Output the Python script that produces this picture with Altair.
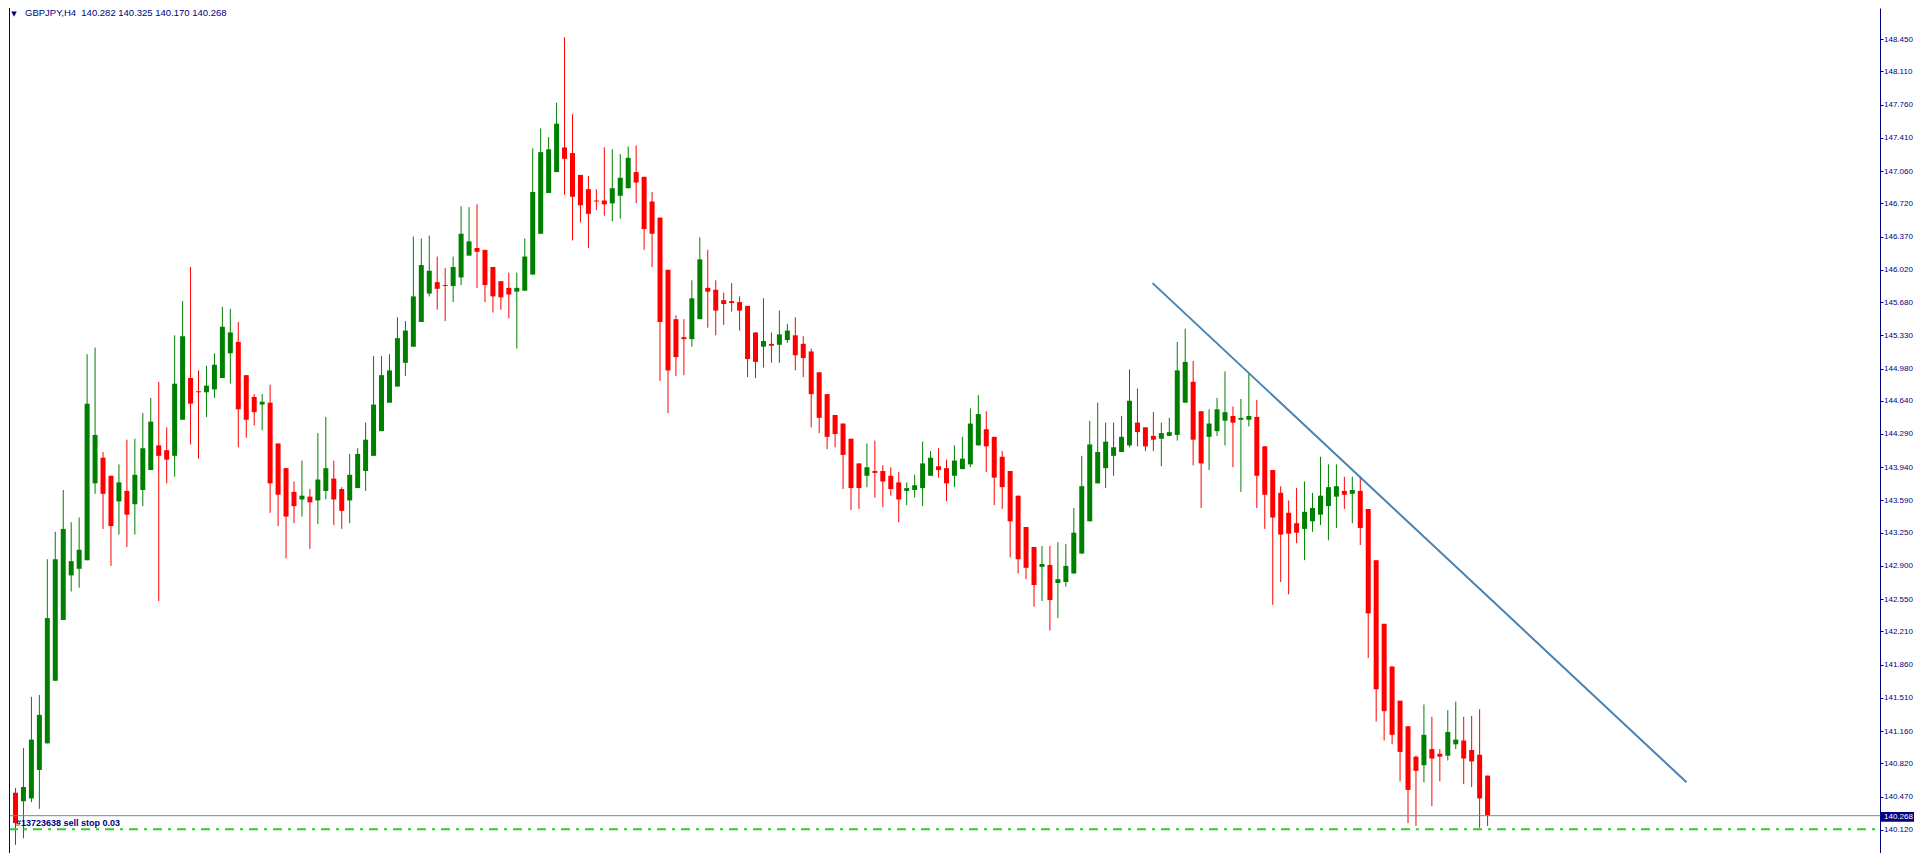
import altair as alt
import pandas as pd

# ---------------- data ----------------
header_text = "GBPJPY,H4\u00a0 140.282 140.325 140.170 140.268"
bid_price = 140.268
order_price = 140.125
order_label = "#13723638 sell stop 0.03"
trend_index = [142.9, 210.0]
trend_price = [145.88, 140.62]
axis_values = [148.800, 148.450, 148.110, 147.760, 147.410, 147.060, 146.720,
               146.370, 146.020, 145.680, 145.330, 144.980, 144.640, 144.290,
               143.940, 143.590, 143.250, 142.900, 142.550, 142.210, 141.860,
               141.510, 141.160, 140.820, 140.470, 140.120]

opens = [140.51, 140.42, 140.45, 140.75, 141.03, 141.69, 142.33, 142.80, 142.87, 142.96,
         143.77, 144.04, 143.85, 143.58, 143.69, 143.55, 143.70, 143.91, 144.17, 144.12,
         144.06, 144.44, 144.88, 144.74, 144.73, 144.76, 144.88, 145.14, 145.26, 144.91,
         144.68, 144.60, 144.62, 144.19, 143.93, 143.68, 143.60, 143.63, 143.59, 143.69,
         143.82, 143.71, 143.59, 143.72, 143.90, 144.06, 144.32, 144.62, 144.79, 145.04,
         145.21, 145.47, 145.77, 145.89, 145.86, 145.85, 145.94, 146.17, 146.25, 146.23,
         146.05, 145.90, 145.83, 145.79, 145.80, 145.97, 146.40, 146.83, 147.05, 147.31,
         147.25, 147.02, 146.87, 146.75, 146.75, 146.72, 146.80, 146.88, 147.05, 147.00,
         146.74, 146.57, 146.02, 145.50, 145.31, 145.29, 145.50, 145.83, 145.81, 145.70,
         145.69, 145.68, 145.64, 145.36, 145.21, 145.24, 145.23, 145.28, 145.33, 145.24,
         145.16, 144.94, 144.71, 144.49, 144.40, 144.24, 143.98, 143.85, 143.90, 143.90,
         143.85, 143.78, 143.69, 143.70, 143.72, 143.85, 143.95, 143.93, 143.85, 143.92,
         143.97, 144.17, 144.34, 144.26, 144.05, 143.90, 143.64, 143.31, 143.10, 142.89,
         142.91, 142.72, 142.73, 142.82, 143.03, 143.37, 143.77, 143.93, 144.06, 144.10,
         144.17, 144.41, 144.36, 144.27, 144.24, 144.27, 144.28, 144.62, 144.84, 144.53,
         144.26, 144.32, 144.43, 144.48, 144.44, 144.44, 144.47, 144.16, 143.91, 143.67,
         143.46, 143.35, 143.29, 143.37, 143.44, 143.53, 143.63, 143.69, 143.66, 143.69,
         143.50, 142.96, 142.29, 141.84, 141.48, 141.21, 140.89, 140.80, 140.97, 140.92,
         140.90, 141.02, 141.06, 140.96, 140.91, 140.69]

highs = [140.56, 140.98, 141.52, 141.54, 142.97, 143.26, 143.70, 143.36, 143.41, 145.13,
         145.20, 144.10, 143.85, 143.97, 144.23, 144.24, 144.51, 144.67, 144.84, 144.36,
         145.33, 145.69, 146.05, 144.96, 145.01, 145.14, 145.63, 145.61, 145.47, 144.91,
         144.71, 144.71, 144.81, 144.19, 143.93, 143.79, 144.01, 143.71, 144.30, 144.47,
         144.01, 143.73, 144.08, 144.14, 144.41, 145.11, 145.11, 145.13, 145.52, 145.48,
         146.37, 146.35, 146.38, 146.16, 146.04, 146.16, 146.69, 146.68, 146.71, 146.23,
         146.05, 145.90, 145.99, 145.99, 146.35, 147.30, 147.51, 147.42, 147.78, 148.47,
         147.66, 147.02, 147.01, 146.87, 147.31, 147.29, 147.24, 147.32, 147.33, 147.00,
         146.84, 146.57, 146.02, 145.54, 145.50, 145.91, 146.36, 146.23, 145.91, 145.78,
         145.88, 145.74, 145.64, 145.36, 145.72, 145.36, 145.59, 145.45, 145.52, 145.32,
         145.19, 144.94, 144.71, 144.49, 144.40, 144.24, 143.98, 144.19, 144.22, 143.96,
         143.94, 143.89, 143.78, 143.86, 144.21, 144.11, 144.14, 144.02, 144.17, 144.26,
         144.56, 144.70, 144.53, 144.26, 144.11, 143.90, 143.64, 143.31, 143.10, 143.11,
         143.11, 143.15, 143.13, 143.51, 144.06, 144.43, 144.62, 144.41, 144.41, 144.48,
         144.97, 144.77, 144.36, 144.52, 144.41, 144.46, 145.26, 145.40, 145.06, 144.53,
         144.55, 144.67, 144.95, 144.58, 144.66, 144.93, 144.65, 144.16, 143.91, 143.74,
         143.59, 143.72, 143.79, 143.67, 144.05, 143.97, 143.97, 143.84, 143.84, 143.84,
         143.50, 142.96, 142.29, 141.84, 141.48, 141.21, 140.90, 141.44, 141.31, 140.97,
         141.38, 141.47, 141.31, 141.32, 141.39, 140.69]

lows = [139.96, 140.03, 140.41, 140.34, 141.03, 141.69, 142.33, 142.63, 142.67, 142.96,
        143.66, 143.29, 142.90, 143.23, 143.10, 143.23, 143.53, 143.91, 142.53, 143.77,
        143.84, 144.44, 144.18, 144.03, 144.47, 144.67, 144.88, 144.82, 144.15, 144.25,
        144.38, 144.33, 143.46, 143.32, 142.98, 143.35, 143.42, 143.08, 143.34, 143.60,
        143.33, 143.29, 143.35, 143.72, 143.69, 144.06, 144.32, 144.62, 144.79, 144.90,
        145.21, 145.47, 145.74, 145.60, 145.48, 145.68, 145.86, 146.17, 145.83, 145.68,
        145.57, 145.60, 145.51, 145.19, 145.80, 145.97, 146.40, 146.83, 147.05, 146.81,
        146.33, 146.52, 146.25, 146.65, 146.59, 146.53, 146.56, 146.88, 146.72, 146.23,
        146.05, 144.85, 144.51, 144.90, 144.91, 145.21, 145.50, 145.41, 145.33, 145.44,
        145.58, 145.38, 144.89, 144.88, 144.99, 145.04, 145.04, 145.25, 144.96, 144.89,
        144.36, 144.30, 144.13, 144.15, 143.71, 143.49, 143.50, 143.73, 143.62, 143.52,
        143.64, 143.36, 143.54, 143.62, 143.53, 143.85, 143.83, 143.58, 143.73, 143.92,
        143.94, 144.17, 143.89, 143.54, 143.50, 142.99, 142.82, 142.76, 142.47, 142.53,
        142.22, 142.35, 142.68, 142.82, 143.03, 143.37, 143.77, 143.72, 143.85, 144.10,
        144.15, 144.16, 144.11, 144.11, 143.95, 144.27, 144.22, 144.62, 143.96, 143.51,
        143.91, 144.27, 144.17, 143.94, 143.68, 144.37, 143.51, 143.29, 142.49, 142.73,
        142.60, 143.14, 142.96, 143.26, 143.33, 143.17, 143.30, 143.50, 143.35, 143.12,
        141.93, 141.26, 141.06, 141.02, 140.63, 140.19, 140.16, 140.62, 140.37, 140.63,
        140.85, 140.97, 140.60, 140.57, 140.14, 140.16]

closes = [140.19, 140.57, 141.07, 141.33, 142.35, 142.97, 143.29, 142.95, 143.07, 144.61,
          144.28, 143.66, 143.32, 143.78, 143.44, 143.86, 144.14, 144.42, 144.06, 144.02,
          144.82, 145.32, 144.61, 144.73, 144.80, 145.02, 145.42, 145.36, 144.55, 144.44,
          144.52, 144.63, 143.77, 143.65, 143.42, 143.53, 143.64, 143.57, 143.81, 143.93,
          143.60, 143.48, 143.86, 144.08, 144.23, 144.60, 144.91, 144.96, 145.30, 145.38,
          145.74, 146.07, 146.01, 145.82, 145.85, 146.05, 146.40, 146.32, 146.21, 145.86,
          145.74, 145.73, 145.76, 145.83, 146.16, 146.84, 147.26, 147.29, 147.56, 147.19,
          146.79, 146.70, 146.61, 146.74, 146.71, 146.88, 146.99, 147.20, 146.94, 146.45,
          146.40, 145.47, 144.96, 145.10, 145.29, 145.72, 146.13, 145.79, 145.59, 145.66,
          145.67, 145.59, 145.08, 145.05, 145.27, 145.22, 145.34, 145.38, 145.12, 145.09,
          144.71, 144.46, 144.26, 144.29, 144.07, 143.72, 143.72, 143.94, 143.88, 143.79,
          143.71, 143.60, 143.72, 143.75, 143.98, 144.04, 143.91, 143.77, 144.01, 144.03,
          144.40, 144.50, 144.16, 143.83, 143.73, 143.37, 142.97, 142.88, 142.70, 142.92,
          142.54, 142.76, 142.90, 143.25, 143.74, 144.18, 144.10, 144.21, 144.15, 144.26,
          144.64, 144.31, 144.16, 144.23, 144.30, 144.31, 144.96, 145.05, 144.23, 143.98,
          144.40, 144.55, 144.52, 144.41, 144.46, 144.48, 143.85, 143.65, 143.41, 143.23,
          143.24, 143.25, 143.47, 143.51, 143.64, 143.73, 143.74, 143.65, 143.70, 143.30,
          142.40, 141.60, 141.37, 141.12, 140.94, 140.54, 140.74, 141.12, 140.87, 140.89,
          141.15, 141.07, 140.87, 140.84, 140.45, 140.27]

# ---------------- tables ----------------
candles = pd.DataFrame({
    "bar": list(range(len(opens))),
    "open": opens, "high": highs, "low": lows, "close": closes,
})
candles["dir"] = ["up" if c >= o else "down" for o, c in zip(opens, closes)]

trend = pd.DataFrame({"bar": trend_index, "price": trend_price})
bid_df = pd.DataFrame({"price": [bid_price], "label": [f"{bid_price:.3f}"]})
bid_box = pd.DataFrame({"top": [bid_price + 0.04], "bottom": [bid_price - 0.065]})
order_df = pd.DataFrame({"price": [order_price], "label": [order_label]})
header_df = pd.DataFrame({"label": [header_text]})
tri_df = pd.DataFrame({"label": ["\u25BC"]})

# ---------------- geometry ----------------
W = 1871          # plot area: page x 9 .. 1880
H = 845
RIGHT = 34        # total width 1906 = page width minus the 8px margins
NAVY = "#000080"

xscale = alt.Scale(domain=[-0.1875, 233.6875], nice=False, zero=False)
yscale = alt.Scale(domain=[139.8748, 148.7789], nice=False, zero=False)
color = alt.Color("dir:N", scale=alt.Scale(domain=["up", "down"], range=["#008000", "#FF0000"]), legend=None)

X = alt.X("bar:Q", scale=xscale, axis=None)

price_axis = alt.Axis(orient="right", values=axis_values, tickCount=60, format=".3f", grid=False,
                      domainColor=NAVY, tickColor=NAVY, tickSize=3, labelPadding=0.5,
                      labelColor=NAVY, labelFont="Liberation Sans", labelFontSize=8,
                      labelOverlap=False, title=None)

wicks = alt.Chart(candles).mark_rule(strokeWidth=1, clip=True).encode(
    x=X,
    y=alt.Y("low:Q", scale=yscale, title=None, axis=price_axis),
    y2="high:Q",
    color=color,
)

bodies = alt.Chart(candles).mark_bar(size=5, clip=True).encode(
    x=X,
    y=alt.Y("open:Q", scale=yscale, title=None),
    y2="close:Q",
    color=color,
)

left_frame = alt.Chart(header_df).mark_rule(color=NAVY, strokeWidth=1).encode(
    x=alt.value(0.5), y=alt.value(0), y2=alt.value(H)
)

trend_line = alt.Chart(trend).mark_line(color="#4682B4", strokeWidth=2).encode(
    x=alt.X("bar:Q", scale=xscale, axis=None),
    y=alt.Y("price:Q", scale=yscale, title=None),
)

bid_line = alt.Chart(bid_df).mark_rule(color="#778899", strokeWidth=1).encode(
    y=alt.Y("price:Q", scale=yscale, title=None),
    x=alt.value(0), x2=alt.value(W),
)

order_line = alt.Chart(order_df).mark_rule(color="#32CD32", strokeWidth=2, strokeDash=[9, 6, 3, 6]).encode(
    y=alt.Y("price:Q", scale=yscale, title=None),
    x=alt.value(0), x2=alt.value(W),
)

order_text = alt.Chart(order_df).mark_text(
    align="left", baseline="alphabetic", dy=-3, font="Liberation Sans",
    fontSize=9, fontWeight="bold", color=NAVY
).encode(
    x=alt.value(7),
    y=alt.Y("price:Q", scale=yscale, title=None),
    text="label:N",
)

box = alt.Chart(bid_box).mark_rect(color=NAVY).encode(
    x=alt.value(W + 1), x2=alt.value(W + RIGHT),
    y=alt.Y("top:Q", scale=yscale, title=None),
    y2="bottom:Q",
)

box_text = alt.Chart(bid_df).mark_text(
    align="left", baseline="middle", dy=1, font="Liberation Sans", fontSize=8, color="white"
).encode(
    x=alt.value(W + 4),
    y=alt.Y("price:Q", scale=yscale, title=None),
    text="label:N",
)

header = alt.Chart(header_df).mark_text(
    align="left", baseline="top", font="Liberation Sans", fontSize=9.5, color=NAVY
).encode(x=alt.value(16), y=alt.value(0), text="label:N")

triangle = alt.Chart(tri_df).mark_text(
    align="center", baseline="top", font="DejaVu Sans", fontSize=7, color=NAVY
).encode(x=alt.value(5), y=alt.value(2), text="label:N")

chart = alt.layer(
    wicks, bodies, trend_line, bid_line, order_line, order_text,
    left_frame, box, box_text, header, triangle
).properties(
    width=W, height=H,
    autosize=alt.AutoSizeParams(type="none"),
    padding={"left": 1, "top": 0, "right": RIGHT, "bottom": 0},
    background="white",
).configure_view(stroke=None)

chart.save("out.html", embed_options={"renderer": "svg", "actions": False})
